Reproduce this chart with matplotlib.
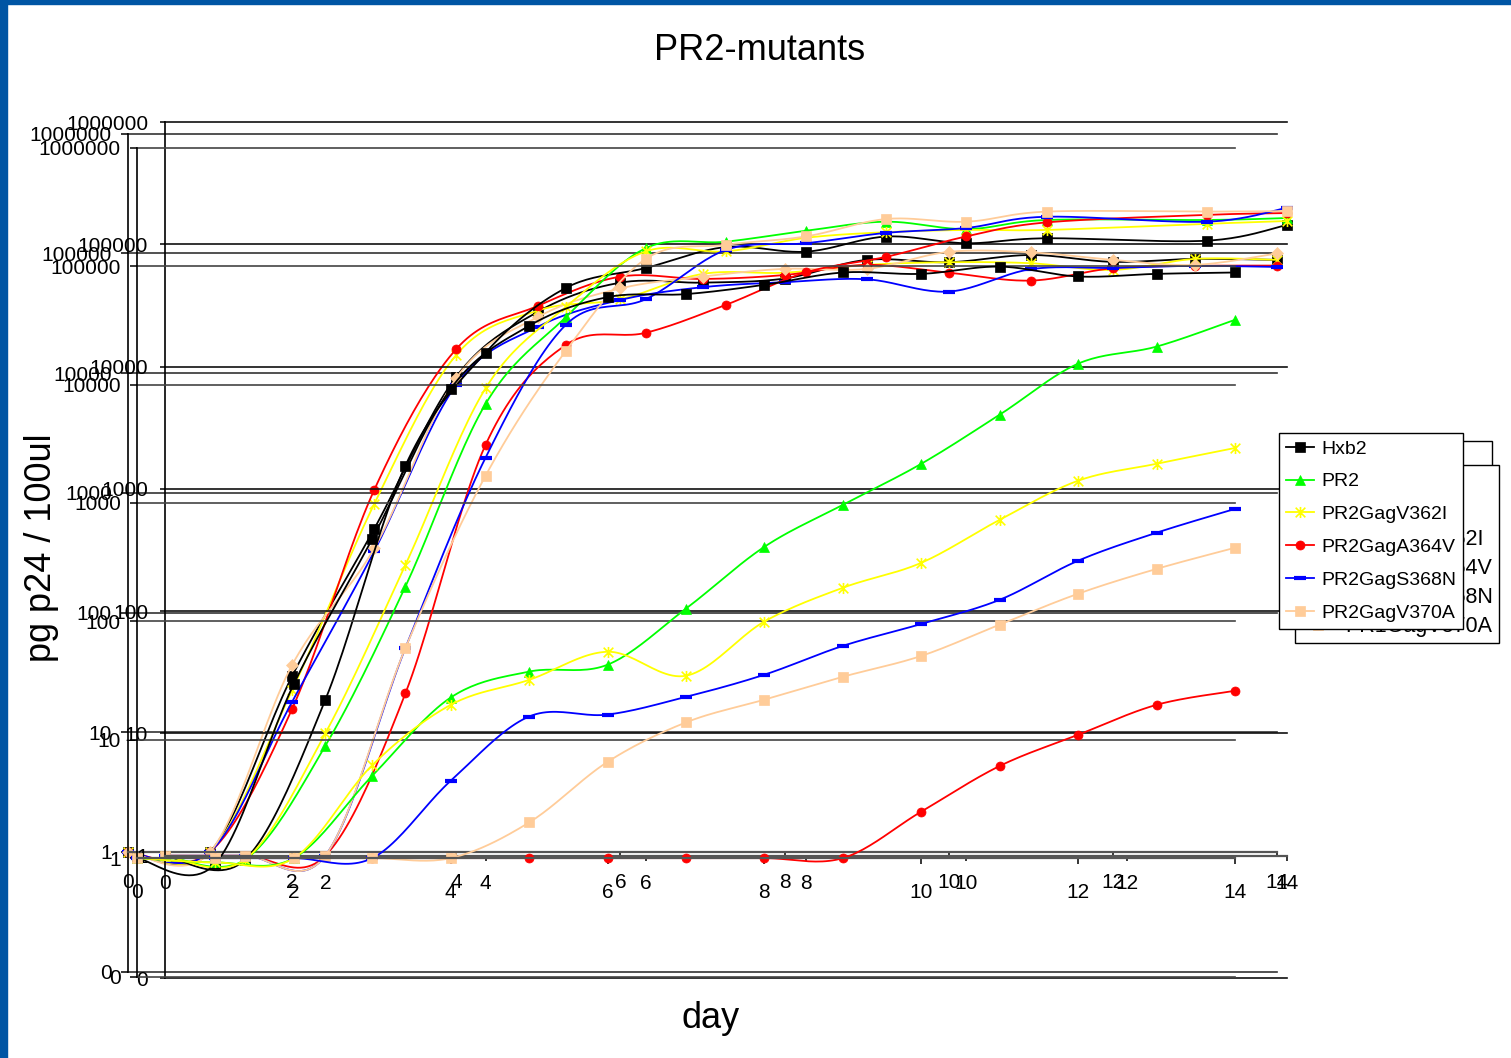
import numpy as np
import matplotlib
matplotlib.use("Agg")
import matplotlib.pyplot as plt
from matplotlib.path import Path
from matplotlib.lines import Line2D
from matplotlib.patches import Rectangle

# ---------------- data (three overlaid charts) ----------------
SERIES = ["Hxb2", "PR2", "PR2GagV362I", "PR2GagA364V", "PR2GagS368N", "PR2GagV370A"]
SERIES_BACK = ["Hxb2", "PR1", "PR1GagV362I", "PR1GagA364V", "PR1GagS368N", "PR1GagV370A"]
X_TICKS = [0, 2, 4, 6, 8, 10, 12, 14]
X_LABELS = ["0", "2", "4", "6", "8", "10", "12", "14"]
Y_TICKS = [0.1, 1, 10, 100, 1000, 10000, 100000, 1000000]
Y_LABELS = ["0", "1", "10", "100", "1000", "10000", "100000", "1000000"]

# chart A
DAYS_A = [0, 1, 2, 3, 4, 5, 6, 7, 8, 9, 10, 11, 12, 13, 14]
A_HXB2 = [1, 1, 29.5, 500, 9350, 32700, 57000, 57000, 61700, 88300, 84400, 97000, 85000, 90000, 88300]
A_V362I = [1, 1, 22.5, 807, 14200, 33400, 41400, 67400, 69000, 80200, 84400, 82800, 72800, 90000, 88300]
A_A364V = [1, 1, 15.7, 1057, 15900, 36600, 64000, 61200, 66000, 80200, 69000, 59300, 75200, 78700, 79100]
A_S368N = [1, 1, 18, 325, 8000, 24500, 40900, 52200, 57500, 60800, 48000, 73800, 75700, 78700, 77100]
A_V370A = [1, 1, 36.5, 344, 9100, 29600, 51000, 64000, 74300, 74200, 103000, 102000, 88300, 80200, 100000]

# chart B (PR2 mutants)
DAYS_B = [0, 1, 2, 3, 4, 5, 6, 7, 8, 9, 10, 11, 12, 13, 14]
B_HXB2 = [1, 0.9, 29.6, 497, 9200, 31300, 54700, 58000, 69500, 88300, 86000, 99000, 81700, 86000, 88300]
B_PR2 = [1, 0.92, 1, 4.96, 22.7, 37.6, 43, 128, 426, 964, 2140, 5560, 15000, 20900, 35200]
B_V362I = [1, 0.92, 1, 6.1, 19.7, 32, 55.3, 34.7, 99.6, 192, 312, 720, 1540, 2140, 2910]
B_A364V = [1, 1, 1, 1, 1, 1, 1, 1, 1, 1, 2.47, 6.0, 11, 19.7, 25.9]
B_S368N = [1, 1, 1, 1, 4.5, 15.7, 16.3, 23, 35.4, 62, 95, 152, 325, 560, 890]
B_V370A = [1, 1, 1, 1, 1, 2.0, 6.5, 14, 21.8, 34, 51, 93.7, 171, 277, 418]

# chart C
DAYS_C = [0, 1, 2, 3, 4, 5, 6, 7, 8, 9, 10, 11, 13, 14]
C_HXB2 = [1, 0.93, 18.8, 1550, 13000, 43900, 64000, 95000, 87000, 115700, 102000, 112000, 107000, 144000]
C_PR2 = [1, 0.93, 7.9, 159, 4950, 25300, 93000, 105000, 129000, 153000, 133000, 158000, 158000, 164000]
C_V362I = [1, 0.93, 10, 239, 6640, 30700, 87500, 87500, 113000, 125600, 131000, 131000, 147000, 155000]
C_A364V = [1, 1, 1, 21.3, 2290, 15000, 18900, 32000, 59000, 79000, 116000, 151000, 174000, 180000]
C_S368N = [1, 1, 1, 50, 1800, 21900, 35600, 90000, 102000, 124000, 136000, 168000, 153000, 199000]
C_V370A = [1, 1, 1, 50, 1280, 13400, 76000, 99000, 116000, 161000, 153000, 185000, 185000, 187000]

# ---------------- styles ----------------
STAR = Path([(-1, -1), (1, 1), (-1, 1), (1, -1), (0, -1.15), (0, 1.15)],
            [Path.MOVETO, Path.LINETO, Path.MOVETO, Path.LINETO, Path.MOVETO, Path.LINETO])
STY = {
    "Hxb2": dict(color="#000000", marker="s", ms=6.5, mfc="#000000", mec="#000000", mew=0.5),
    "PR2": dict(color="#00FF00", marker="^", ms=7.5, mfc="#00FF00", mec="#00FF00", mew=0.5),
    "V362I": dict(color="#FFFF00", marker=STAR, ms=8, mfc="none", mec="#FFFF00", mew=1.2),
    "A364V": dict(color="#FF0000", marker="o", ms=6.5, mfc="#FF0000", mec="#FF0000", mew=0.5),
    "S368N": dict(color="#0000FF", marker="_", ms=8, mfc="#0000FF", mec="#0000FF", mew=3),
    "V370A": dict(color="#FFCC99", marker="s", ms=7, mfc="#FFCC99", mec="#FFCC99", mew=0.5),
}

plt.rcParams["font.family"] = ["Liberation Sans", "DejaVu Sans"]
W, H = 1511, 1058
fig = plt.figure(figsize=(W / 100, H / 100), dpi=100)
fig.patch.set_facecolor("white")
TICK_FS = 15


def px_axes(left, top, right, bottom, z):
    ax = fig.add_axes([left / W, 1 - bottom / H, (right - left) / W, (bottom - top) / H])
    ax.set_zorder(z)
    ax.patch.set_alpha(0)
    return ax


def smooth(days, vals, n=24):
    x = np.asarray(days, float)
    y = np.log10(np.asarray(vals, float))
    P = np.column_stack([x, y])
    xs, ys = [], []
    for i in range(len(P) - 1):
        p0 = P[i - 1] if i > 0 else P[i]
        p1, p2 = P[i], P[i + 1]
        p3 = P[i + 2] if i + 2 < len(P) else P[i + 1]
        c1 = p1 + (p2 - p0) / 6.0
        c2 = p2 - (p3 - p1) / 6.0
        t = np.linspace(0, 1, n)[:, None]
        b = (1 - t) ** 3 * p1 + 3 * (1 - t) ** 2 * t * c1 + 3 * (1 - t) * t ** 2 * c2 + t ** 3 * p2
        xs.append(b[:, 0]); ys.append(b[:, 1])
    return np.concatenate(xs), 10 ** np.concatenate(ys)


def setup(ax, grid_color, ytick_len, ypad, xtick_len, xpad):
    ax.set_xlim(0, 14)
    ax.set_yscale("log")
    ax.set_ylim(0.1, 1e6)
    ax.set_yticks(Y_TICKS)
    ax.set_yticklabels(Y_LABELS)
    ax.yaxis.set_minor_locator(matplotlib.ticker.NullLocator())
    ax.set_xticks(X_TICKS)
    ax.set_xticklabels(X_LABELS)
    for s in ["top", "right"]:
        ax.spines[s].set_visible(False)
    ax.spines["left"].set_color("#000000")
    ax.spines["left"].set_linewidth(1.2)
    ax.spines["bottom"].set_position(("data", 1))
    ax.spines["bottom"].set_color("#555555")
    ax.spines["bottom"].set_linewidth(1.6)
    ax.tick_params(axis="y", which="major", direction="out", length=ytick_len, width=1.1,
                   pad=ypad, labelsize=TICK_FS, color="#000000")
    ax.tick_params(axis="x", which="major", direction="out", length=xtick_len, width=1.1,
                   pad=xpad, labelsize=TICK_FS, color="#000000")
    ax.yaxis.grid(True, color=grid_color, lw=1.2)
    for gl in ax.get_ygridlines():
        gl.set_clip_on(False)
    ax.set_axisbelow(True)


def draw(ax, days, vals, key, marker=None, ms=None):
    st = dict(STY[key])
    if marker is not None:
        st["marker"] = marker
    if ms is not None:
        st["ms"] = ms
    xs, ys = smooth(days, vals)
    ax.plot(xs, ys, color=st["color"], lw=1.3, solid_capstyle="round", clip_on=False)
    ax.plot(days, vals, ls="none", marker=st["marker"], ms=st["ms"], mfc=st["mfc"],
            mec=st["mec"], mew=st["mew"], clip_on=False)


# chart A
axA = px_axes(128, 133.7, 1277, 971.7, 1)
setup(axA, "#333333", 5, 6.6, 3.6, 11.4)
draw(axA, DAYS_A, A_HXB2, "Hxb2")
draw(axA, DAYS_A, A_V362I, "V362I")
draw(axA, DAYS_A, A_A364V, "A364V")
draw(axA, DAYS_A, A_S368N, "S368N")
draw(axA, DAYS_A, A_V370A, "V370A", marker="D", ms=6)

# chart C
axC = px_axes(165, 122, 1287, 978, 2)
setup(axC, "#111111", 3.6, 8.6, 3.6, 9.8)
draw(axC, DAYS_C, C_HXB2, "Hxb2")
draw(axC, DAYS_C, C_PR2, "PR2")
draw(axC, DAYS_C, C_V362I, "V362I")
draw(axC, DAYS_C, C_A364V, "A364V")
draw(axC, DAYS_C, C_S368N, "S368N")
draw(axC, DAYS_C, C_V370A, "V370A")

# chart B
axB = px_axes(137, 147.7, 1235, 976.5, 3)
setup(axB, "#444444", 5, 6.6, 4.3, 13.5)
draw(axB, DAYS_B, B_HXB2, "Hxb2")
draw(axB, DAYS_B, B_PR2, "PR2")
draw(axB, DAYS_B, B_V362I, "V362I")
draw(axB, DAYS_B, B_A364V, "A364V")
draw(axB, DAYS_B, B_S368N, "S368N")
draw(axB, DAYS_B, B_V370A, "V370A")


def handles():
    hs = []
    for k in ["Hxb2", "PR2", "V362I", "A364V", "S368N", "V370A"]:
        st = STY[k]
        hs.append(Line2D([], [], color=st["color"], lw=1.3, marker=st["marker"], ms=st["ms"],
                         mfc=st["mfc"], mec=st["mec"], mew=st["mew"]))
    return hs


def legend(labels, anchor_px, loc, fs, ls, hl, htp, bp):
    lg = fig.legend(handles(), labels, loc=loc,
                    bbox_to_anchor=(anchor_px[0] / W, 1 - anchor_px[1] / H),
                    bbox_transform=fig.transFigure, frameon=True, fancybox=False,
                    framealpha=1, edgecolor="#000000", facecolor="white", fontsize=fs,
                    labelspacing=ls, handlelength=hl, handletextpad=htp, borderpad=bp,
                    borderaxespad=0)
    lg.get_frame().set_linewidth(1.0)
    return lg


legend(SERIES_BACK, (1492, 441), "upper right", 15.5, 0.38, 1.6, 0.5, 0.25)
legend(SERIES_BACK, (1499, 465), "upper right", 15.5, 0.38, 1.6, 0.5, 0.25)
legend(SERIES, (1279, 433), "upper left", 14, 0.78, 1.45, 0.35, 0.36)

fig.text(760 / W, 1 - 50 / H, "PR2-mutants", ha="center", va="center", fontsize=26)
fig.text(42 / W, 1 - 548 / H, "pg p24 / 100ul", ha="center", va="center", rotation=90, fontsize=26)
fig.text(711 / W, 1 - 1018 / H, "day", ha="center", va="center", fontsize=26)

fig.patches.append(Rectangle((0, 0), 7 / W, 1, transform=fig.transFigure, color="#0055A4", zorder=10))
fig.patches.append(Rectangle((0, 1 - 4 / H), 1, 4 / H, transform=fig.transFigure, color="#0055A4", zorder=10))

fig.savefig("out.png", dpi=100)
